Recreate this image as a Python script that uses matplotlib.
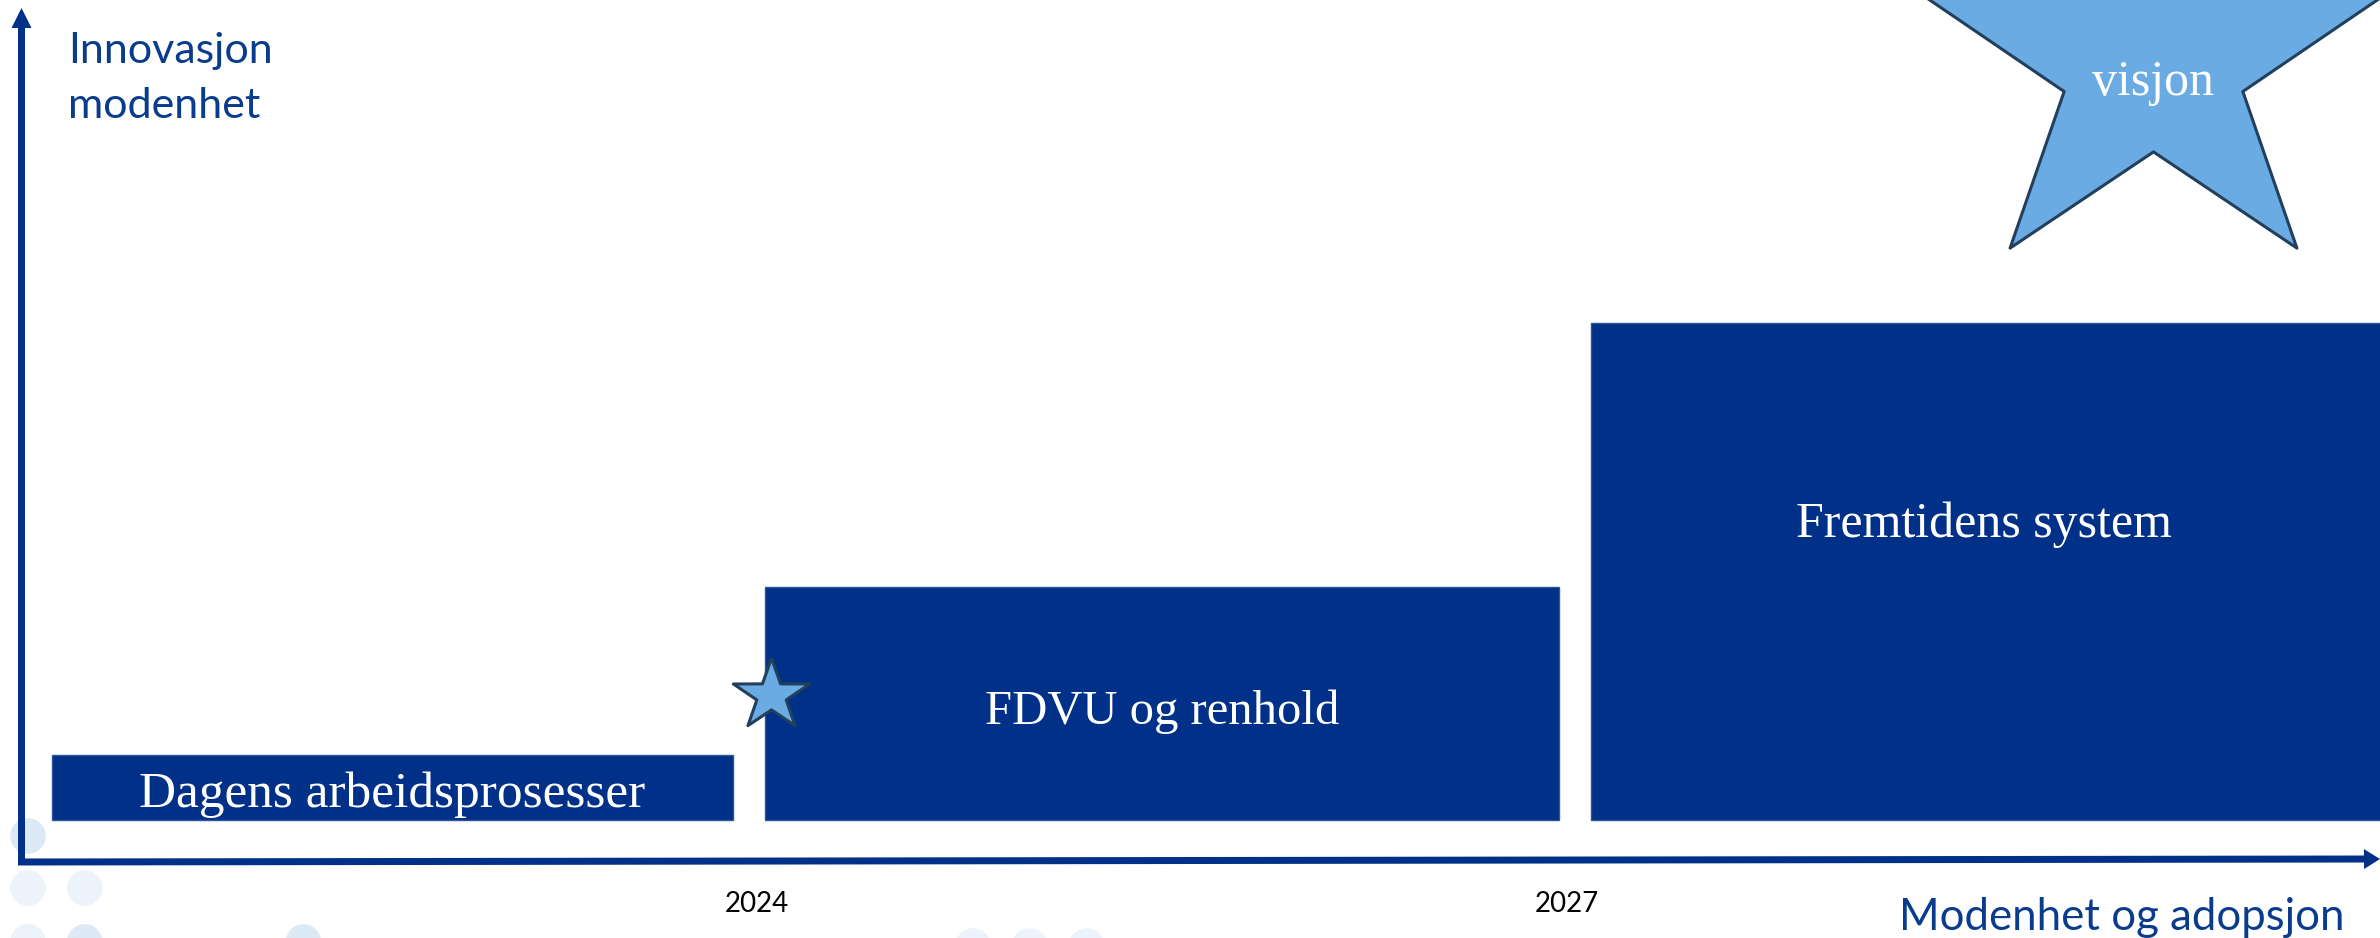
import numpy as np
import matplotlib.pyplot as plt

# stages on the roadmap (x in years, y in maturity units)
stage_names = ["Dagens arbeidsprosesser", "FDVU og renhold", "Fremtidens system"]
stage_start = [2021.39, 2024.03, 2027.09]
stage_end = [2023.91, 2026.97, 2030.05]
stage_base = 0.41
stage_level = [1.06, 2.74, 5.38]
label_baseline = [0.54, 1.37, 3.24]
label_size = [37, 35, 36]

year_ticks = [2024, 2027]

# stars: small marker at 2024, big "visjon" star top right
small_star = (2024.05, 1.66)
vision_star = (2029.17, 7.97)
vision_label = "visjon"

# faint background dots (year, maturity, shade)
dot_x = [2021.30, 2021.30, 2021.51, 2021.30, 2021.51, 2022.32, 2024.80, 2025.01, 2025.22]
dot_y = [0.25, -0.27, -0.27, -0.81, -0.81, -0.81, -0.85, -0.85, -0.85]
dot_dark = [True, False, False, False, True, True, False, False, False]

NAVY = '#003087'
TEXT_BLUE = '#0A3C8E'
STAR_FILL = '#6AABE3'
STAR_EDGE = '#22405C'

PX_YEAR = 270.0   # pixels per year
PX_UNIT = 100.0   # pixels per maturity unit
PX_PT = 100 / 72.0


def star_marker(inner=0.385, stretch=1.075):
    """Five-point star, a bit wider than regular (like the PowerPoint shape)."""
    ang = np.deg2rad(90 + 36 * np.arange(10))
    rad = np.where(np.arange(10) % 2 == 0, 1.0, inner)
    verts = np.column_stack([rad * np.cos(ang) * stretch, rad * np.sin(ang)])
    verts = np.vstack([verts, verts[:1]])
    return verts, np.abs(verts).max()


def main():
    fig = plt.figure(figsize=(23.8, 9.38), dpi=100)
    ax = fig.add_axes([0, 0, 1, 1])
    ax.set_xlim(2024 - 757 / PX_YEAR, 2024 + 1623 / PX_YEAR)
    ax.set_ylim(-77 / PX_UNIT, 861 / PX_UNIT)
    ax.axis('off')

    # background dots
    cols = ['#DEE9F6' if d else '#EDF3FA' for d in dot_dark]
    ax.scatter(dot_x, dot_y, s=660, c=cols, linewidths=0, zorder=0)

    # stage bars
    widths = [e - s for s, e in zip(stage_start, stage_end)]
    heights = [lv - stage_base for lv in stage_level]
    ax.bar(stage_start, heights, width=widths, bottom=stage_base, align='edge',
           color=NAVY, edgecolor='#2F5597', linewidth=1, zorder=2)
    for name, s, e, yb, fs in zip(stage_names, stage_start, stage_end, label_baseline, label_size):
        ax.text((s + min(e, 2030.0)) / 2, yb, name, color='white', fontsize=fs,
                family='Liberation Serif', ha='center', va='baseline', zorder=3)

    # axes arrows
    x0 = 2024 - (757 - 21.5) / PX_YEAR
    xs = 2024 - (757 - 18) / PX_YEAR
    ax.arrow(xs, -0.01, 2030.011 - xs, 0.03,
             width=7 / PX_UNIT, head_width=20 / PX_UNIT, head_length=16 / PX_YEAR,
             length_includes_head=True, color=NAVY, linewidth=0, zorder=4)
    ax.arrow(x0, -0.01, 0, 8.54, width=7 / PX_YEAR, head_width=20 / PX_YEAR,
             head_length=20 / PX_UNIT, length_includes_head=True, color=NAVY,
             linewidth=0, zorder=4)

    # axis labels
    lx = 2024 - (757 - 68) / PX_YEAR
    ax.text(lx, 7.98, "Innovasjon", color=TEXT_BLUE, fontsize=31, family='Lato',
            ha='left', va='baseline')
    ax.text(lx, 7.43, "modenhet", color=TEXT_BLUE, fontsize=31, family='Lato',
            ha='left', va='baseline')
    ax.text(2024 + (2122 - 757) / PX_YEAR, -0.69, "Modenhet og adopsjon", color=TEXT_BLUE,
            fontsize=31.5, family='Lato', ha='center', va='baseline')
    for yr in year_ticks:
        ax.text(yr, -0.43, str(yr), color='black', fontsize=20, family='Lato',
                ha='center', va='center')

    # stars
    verts, rescale = star_marker()
    for (sx, sy), r_px in [(small_star, 37.3), (vision_star, 227.0)]:
        ax.plot(sx, sy, marker=verts, markersize=2 * r_px * rescale / PX_PT,
                markerfacecolor=STAR_FILL, markeredgecolor=STAR_EDGE,
                markeredgewidth=2.2, zorder=5)
    ax.text(vision_star[0], 7.66, vision_label, color='white', fontsize=36,
            family='Liberation Serif', ha='center', va='baseline', zorder=6)

    fig.savefig('out.png', dpi=100)
    plt.close(fig)


if __name__ == "__main__":
    main()
